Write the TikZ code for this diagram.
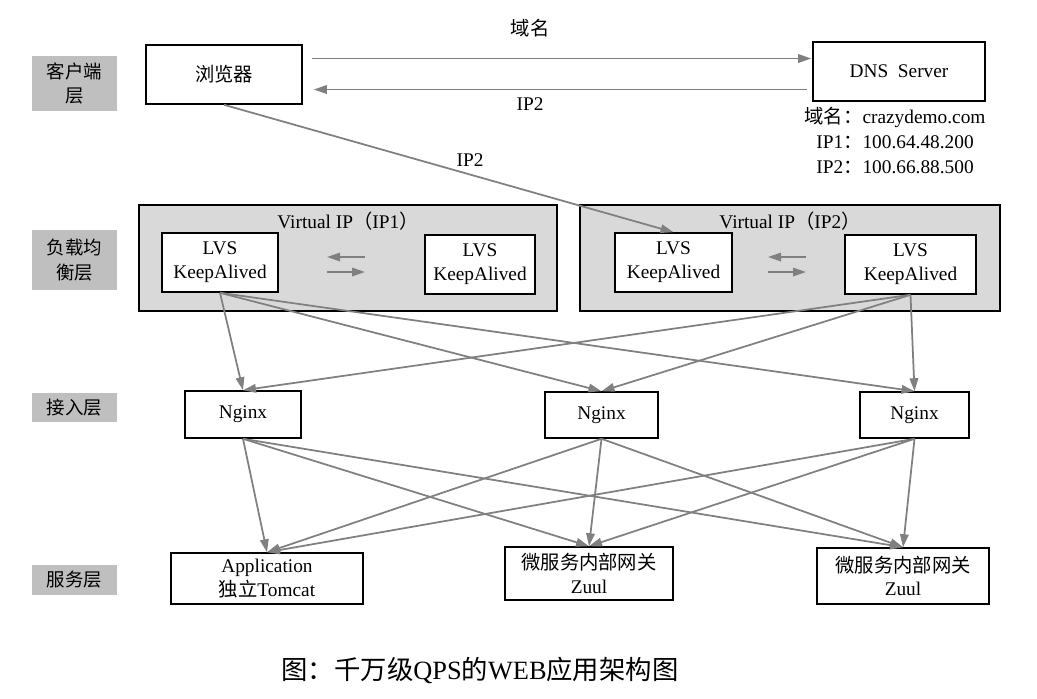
\documentclass[tikz,border=0pt]{standalone}
\usepackage{fontspec}
\setmainfont{Liberation Serif}
\newfontfamily\cjk{Noto Sans CJK SC}
\usetikzlibrary{arrows.meta,positioning,calc}

\tikzset{
  box/.style={draw, line width=0.9pt, fill=white, align=center, inner sep=1pt,
    font=\fontsize{11}{13.5}\selectfont},
  layer/.style={fill=black!25, align=center, minimum width=1.7cm, inner sep=1pt,
    font=\cjk\fontsize{10.5}{14}\selectfont},
  vip/.style={draw, line width=0.9pt, fill=black!15},
  txt/.style={align=center, inner sep=1pt, font=\fontsize{11}{13.5}\selectfont},
  conn/.style={draw=black!50, line width=1pt, -{Triangle[length=2.6mm,width=1.7mm]}},
}

\begin{document}
\begin{tikzpicture}[x=0.02cm, y=-0.02cm]
  \useasboundingbox (0,0) rectangle (1037,698);

  % layer labels
  \node[layer, minimum height=1.1cm] (lc) at (74.5,83.5) {客户端\\层};
  \node[layer, minimum height=1.2cm] (lb) at (74.5,260) {负载均\\衡层};
  \node[layer, minimum height=0.58cm] (la) at (74.5,407.5) {接入层};
  \node[layer, minimum height=0.6cm] (ls) at (74.5,580) {服务层};

  % client layer
  \node[box, minimum width=3.12cm, minimum height=1.18cm] (br) at (224,74.5) {\cjk 浏览器};
  \node[box, minimum width=3.44cm, minimum height=1.18cm] (dns) at (899,71.5) {DNS\enspace Server};
  \node[txt, font=\fontsize{11}{14.5}\selectfont] (info) at (895,140.5)
    {{\cjk 域名：}crazydemo.com\\IP1{\cjk ：}100.64.48.200\\IP2{\cjk ：}100.66.88.500};
  \draw[conn] ($(br.east)+(9,-16)$) -- ($(dns.west)+(-1,-13)$);
  \draw[conn] ($(dns.west)+(-5,18)$) -- ($(br.east)+(11,15)$);
  \node[txt] (dom) at (530,28) {\cjk 域名};
  \node[txt] (ipa) at (530,104) {IP2};

  % load balancing layer
  \node[vip, minimum width=8.36cm, minimum height=2.12cm] (vip1) at (348,258) {};
  \node[vip, minimum width=8.4cm, minimum height=2.12cm] (vip2) at (790,258) {};
  \node[txt] (t1) at (348,221) {Virtual IP{\cjk （}IP1{\cjk ）}};
  \node[txt] (t2) at (790,221) {Virtual IP{\cjk （}IP2{\cjk ）}};
  \node[box, minimum width=2.32cm, minimum height=1.18cm] (l1) at (220,262.5) {LVS\\KeepAlived};
  \node[box, minimum width=2.2cm, minimum height=1.18cm] (l2) at (480,264.5) {LVS\\KeepAlived};
  \node[box, minimum width=2.34cm, minimum height=1.18cm] (r1) at (673.5,262.5) {LVS\\KeepAlived};
  \node[box, minimum width=2.62cm, minimum height=1.18cm] (r2) at (910.5,264.5) {LVS\\KeepAlived};

  \coordinate (a1) at (365,257); \coordinate (b1) at (327,257);
  \coordinate (a2) at (327,272); \coordinate (b2) at (365,272);
  \coordinate (a3) at (806,257); \coordinate (b3) at (768,257);
  \coordinate (a4) at (768,272); \coordinate (b4) at (806,272);
  \draw[conn] (a1) -- (b1);
  \draw[conn] (a2) -- (b2);
  \draw[conn] (a3) -- (b3);
  \draw[conn] (a4) -- (b4);

  \draw[conn] (br.south) -- (r1.north);
  \node[txt] (ipb) at (470,160) {IP2};

  % access layer
  \node[box, minimum width=2.32cm, minimum height=0.94cm] (n1) at (243,414.5) {Nginx};
  \node[box, minimum width=2.26cm, minimum height=0.92cm] (n2) at (601.5,415) {Nginx};
  \node[box, minimum width=2.18cm, minimum height=0.92cm] (n3) at (914.5,415) {Nginx};

  % service layer
  \node[box, minimum width=3.84cm, minimum height=1.02cm] (s1) at (267,578.5) {Application\\{\cjk 独立}Tomcat};
  \node[box, minimum width=3.36cm, minimum height=1.06cm] (s2) at (589,573.5) {{\cjk 微服务内部网关}\\Zuul};
  \node[box, minimum width=3.44cm, minimum height=1.12cm] (s3) at (903,576) {{\cjk 微服务内部网关}\\Zuul};

  \foreach \src in {l1,r2}
    \foreach \dst in {n1,n2,n3}
      \draw[conn] (\src.south) -- (\dst.north);
  \foreach \src in {n1,n2,n3}
    \foreach \dst in {s1,s2,s3}
      \draw[conn] (\src.south) -- (\dst.north);

  % caption
  \node[txt, font=\fontsize{15}{18}\selectfont] (cap) at (480,670)
    {{\cjk 图：千万级}QPS{\cjk 的}WEB{\cjk 应用架构图}};
\end{tikzpicture}
\end{document}
